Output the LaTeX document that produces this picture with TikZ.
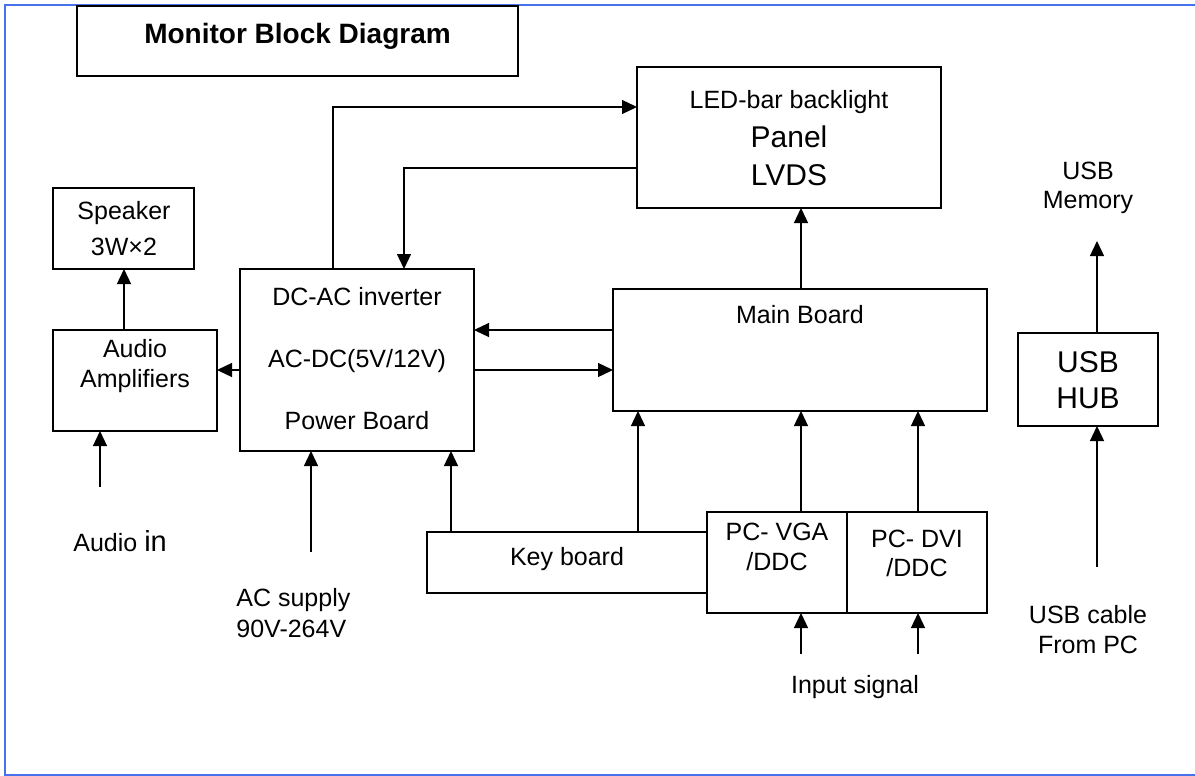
\documentclass[tikz,border=0pt]{standalone}
\usepackage{fontspec}
\setmainfont{Liberation Sans}
\usetikzlibrary{arrows.meta,fit}
\definecolor{framecol}{RGB}{70,115,235}
\begin{document}
\begin{tikzpicture}[x=0.5pt,y=-0.5pt,
  box/.style={draw,line width=0.65pt,inner sep=0pt,outer sep=0pt},
  tbox/.style={box,line width=0.9pt},
  txt/.style={anchor=base,inner sep=0pt,font=\fontsize{12.5}{15}\selectfont},
  bigtxt/.style={txt,font=\fontsize{15}{18}\selectfont},
  arr/.style={line width=0.65pt,-{Triangle[length=7.5pt,width=7pt]}},
  framestyle/.style={draw=framecol,line width=0.6pt}]
\useasboundingbox (0,0) rectangle (1195,776);
\draw[framestyle] (1195,5) -- (5,5) -- (5,775) -- (1195,775);

% boxes
\node[tbox,fit={(77,6) (518,76)}] (title) {};
\node[box,fit={(637,67) (941,208)}] (led) {};
\node[box,fit={(53,188) (194,269)}] (spk) {};
\node[box,fit={(53,330) (217,431)}] (amp) {};
\node[box,fit={(240,269) (474,451)}] (power) {};
\node[box,fit={(613,289) (987,411)}] (main) {};
\node[box,fit={(1018,333) (1158,426)}] (hub) {};
\node[box,fit={(427,532) (707,593)}] (kb) {};
\node[box,fit={(707,512) (847,613)}] (vga) {};
\node[box,fit={(847,512) (987,613)}] (dvi) {};

% texts in boxes
\node[txt,font=\fontsize{14}{17}\selectfont\bfseries] (ttitle) at (297.5,43) {Monitor Block Diagram};
\node[txt] (tled1) at (789,108) {LED-bar backlight};
\node[bigtxt] (tled2) at (789,147) {Panel};
\node[bigtxt] (tled3) at (789,185) {LVDS};
\node[txt] (tspk1) at (124,219) {Speaker};
\node[txt] (tspk2) at (124,255) {3W×2};
\node[txt] (tamp1) at (135,357) {Audio};
\node[txt] (tamp2) at (135,387) {Amplifiers};
\node[txt] (tpow1) at (357,305) {DC-AC inverter};
\node[txt] (tpow2) at (357,367) {AC-DC(5V/12V)};
\node[txt] (tpow3) at (357,429) {Power Board};
\node[txt] (tmain) at (800,323) {Main Board};
\node[bigtxt] (thub1) at (1088,372) {USB};
\node[bigtxt] (thub2) at (1088,408) {HUB};
\node[txt] (tkb) at (567,565) {Key board};
\node[txt] (tvga1) at (777,540) {PC- VGA};
\node[txt] (tvga2) at (777,570) {/DDC};
\node[txt] (tdvi1) at (917,547) {PC- DVI};
\node[txt] (tdvi2) at (917,576) {/DDC};

% free labels
\node[txt,anchor=base west] (laudio) at (73,551) {Audio {\fontsize{14.5}{17}\selectfont in}};
\node[txt,anchor=base west] (lac1) at (236,606) {AC supply};
\node[txt,anchor=base west] (lac2) at (236,637) {90V-264V};
\node[txt] (linput) at (855,693) {Input signal};
\node[txt] (lusbm1) at (1088,179) {USB};
\node[txt] (lusbm2) at (1088,208) {Memory};
\node[txt] (lusbc1) at (1088,623) {USB cable};
\node[txt] (lusbc2) at (1088,653) {From PC};

% helper coordinates
\coordinate (c1) at (333,107);
\coordinate (c2) at (404,168);
\coordinate (c3) at (124,0);
\coordinate (c4) at (0,370);
\coordinate (c5) at (0,330);
\coordinate (c6) at (801,0);
\coordinate (c7) at (918,0);
\coordinate (c8) at (451,0);
\coordinate (c9) at (638,0);
\coordinate (c10) at (1097,0);
\coordinate (ainsrc) at (100,487);
\coordinate (acsrc) at (311,552);
\coordinate (in1) at (801,654);
\coordinate (in2) at (918,654);
\coordinate (usbsrc) at (1097,567);
\coordinate (usbmem) at (1097,241);

% connectors
\draw[arr] (power.north -| c1) |- (led.west |- c1);
\draw[arr] (led.west |- c2) -| (power.north -| c2);
\draw[arr] (amp.north -| c3) -- (spk.south -| c3);
\draw[arr] (power.west |- c4) -- (amp.east |- c4);
\draw[arr] (main.west |- c5) -- (power.east |- c5);
\draw[arr] (power.east |- c4) -- (main.west |- c4);
\draw[arr] (main.north -| c6) -- (led.south -| c6);
\draw[arr] (ainsrc) -- (amp.south -| ainsrc);
\draw[arr] (acsrc) -- (power.south -| acsrc);
\draw[arr] (kb.north -| c8) -- (power.south -| c8);
\draw[arr] (kb.north -| c9) -- (main.south -| c9);
\draw[arr] (vga.north -| c6) -- (main.south -| c6);
\draw[arr] (dvi.north -| c7) -- (main.south -| c7);
\draw[arr] (in1) -- (vga.south -| in1);
\draw[arr] (in2) -- (dvi.south -| in2);
\draw[arr] (hub.north -| c10) -- (usbmem);
\draw[arr] (usbsrc) -- (hub.south -| usbsrc);
\end{tikzpicture}
\end{document}
